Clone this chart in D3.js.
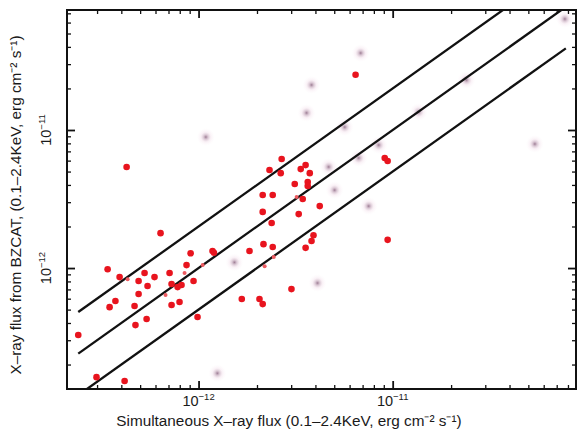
<!DOCTYPE html>
<html><head><meta charset="utf-8">
<script src="https://cdn.jsdelivr.net/npm/d3@7"></script>
<style>body{margin:0;background:#fff}svg{display:block}text{font-family:"Liberation Sans",Arial,sans-serif;fill:#1a1a1a}</style>
</head><body><svg id="c" width="578" height="432"></svg>
<script>
// Red points (simultaneous flux vs BZCAT flux)
const redX = [2.40e-13,2.98e-13,4.16e-13,3.40e-13,3.48e-13,3.73e-13,3.92e-13,4.26e-13,4.68e-13,4.73e-13,4.91e-13,4.91e-13,5.27e-13,5.46e-13,5.40e-13,5.93e-13,6.37e-13,7.09e-13,7.26e-13,7.26e-13,7.80e-13,7.98e-13,8.17e-13,8.67e-13,9.10e-13,9.42e-13,9.88e-13,1.18e-12,1.20e-12,1.67e-12,1.83e-12,2.06e-12,2.14e-12,2.14e-12,2.14e-12,2.16e-12,2.32e-12,2.38e-12,2.41e-12,2.41e-12,2.65e-12,2.68e-12,3.01e-12,3.13e-12,3.28e-12,3.36e-12,3.44e-12,3.56e-12,3.56e-12,3.65e-12,3.65e-12,3.74e-12,3.82e-12,3.91e-12,4.21e-12,6.44e-12,9.10e-12,9.42e-12,9.42e-12];
const redY = [3.27e-13,1.62e-13,1.52e-13,9.80e-13,5.21e-13,5.77e-13,8.60e-13,5.40e-12,5.31e-13,3.86e-13,8.05e-13,6.48e-13,9.20e-13,7.41e-13,4.27e-13,8.60e-13,1.79e-12,9.20e-13,5.40e-13,7.66e-13,7.28e-13,5.67e-13,7.53e-13,1.05e-12,1.28e-12,8.05e-13,4.42e-13,1.33e-12,1.29e-12,5.96e-13,1.33e-12,5.96e-13,5.48e-13,3.38e-12,2.55e-12,1.49e-12,5.13e-12,2.12e-12,1.42e-12,3.38e-12,4.87e-12,6.17e-12,7.04e-13,4.06e-12,2.46e-12,5.21e-12,3.16e-12,5.57e-12,1.40e-12,4.20e-12,3.93e-12,4.87e-12,1.57e-12,1.73e-12,2.81e-12,2.51e-11,6.27e-12,5.96e-12,1.60e-12];
// Faint small red points
const smallX = [4.31e-13,6.76e-13,8.47e-13,1.05e-12,2.19e-12,2.44e-12,3.20e-12];
const smallY = [8.30e-13,6.37e-13,9.20e-13,1.05e-12,1.03e-12,1.20e-12,3.27e-12];
// Faded (grey) points
const ghostX = [7.71e-11,6.84e-12,3.82e-12,2.40e-11,3.60e-12,1.36e-11,5.66e-12,1.09e-12,8.47e-12,5.40e-11,6.68e-12,4.68e-12,5.02e-12,7.52e-12,1.53e-12,4.10e-12,1.25e-12];
const ghostY = [6.37e-11,3.61e-11,2.12e-11,2.30e-11,1.33e-11,1.35e-11,1.05e-11,8.89e-12,7.78e-12,7.92e-12,6.27e-12,5.40e-12,3.67e-12,2.81e-12,1.10e-12,7.79e-13,1.73e-13];
// Reference lines y = k * x
const lineRatios = [2, 1, 0.5];
const lineXRange = [2.4e-13, 7.8e-11];
const xDomain = [2.1e-13, 8.8e-11];
const yDomain = [1.33e-13, 7.4e-11];
const xMajorTicks = [1e-12, 1e-11];
const yMajorTicks = [1e-12, 1e-11];
const xTickLabels = ["−12", "−11"];
const yTickLabels = ["−12", "−11"];
const xTitle = "Simultaneous X\u2013ray flux (0.1\u20132.4KeV, erg cm\u207B\u00B2 s\u207B\u00B9)";
const yTitle = "X\u2013ray flux from BZCAT, (0.1\u20132.4KeV, erg cm\u207B\u00B2 s\u207B\u00B9)";

const L = 67, R = 576, T = 10, B = 389;
const svg = d3.select("#c");
const x = d3.scaleLog().domain(xDomain).range([L, R]);
const y = d3.scaleLog().domain(yDomain).range([B, T]);

const defs = svg.append("defs");
defs.append("clipPath").attr("id","clip").append("rect")
  .attr("x",L).attr("y",T).attr("width",R-L).attr("height",B-T);
const grad = defs.append("radialGradient").attr("id","gh");
grad.append("stop").attr("offset","0%").attr("stop-color","#8a6580").attr("stop-opacity",0.85);
grad.append("stop").attr("offset","25%").attr("stop-color","#b48fa8").attr("stop-opacity",0.5);
grad.append("stop").attr("offset","55%").attr("stop-color","#f0d8e6").attr("stop-opacity",0.35);
grad.append("stop").attr("offset","100%").attr("stop-color","#fbf0f6").attr("stop-opacity",0);

const plot = svg.append("g").attr("clip-path","url(#clip)");

// ghost points
plot.selectAll(".gh").data(ghostX.map((d,i)=>[d,ghostY[i]])).enter().append("circle")
  .attr("cx",d=>x(d[0])).attr("cy",d=>y(d[1])).attr("r",9).attr("fill","url(#gh)");

// lines
lineRatios.forEach(k=>{
  plot.append("line").attr("x1",x(lineXRange[0])).attr("y1",y(lineXRange[0]*k))
    .attr("x2",x(lineXRange[1])).attr("y2",y(lineXRange[1]*k))
    .attr("stroke","#111").attr("stroke-width",2.3);
});

plot.selectAll(".rd").data(redX.map((d,i)=>[d,redY[i]])).enter().append("circle")
  .attr("cx",d=>x(d[0])).attr("cy",d=>y(d[1])).attr("r",3.3).attr("fill","#e8141e");
plot.selectAll(".sm").data(smallX.map((d,i)=>[d,smallY[i]])).enter().append("circle")
  .attr("cx",d=>x(d[0])).attr("cy",d=>y(d[1])).attr("r",2).attr("fill","#ec5a60");

// axes (ticks inside)
const isMajor = d => Math.abs(Math.log10(d)-Math.round(Math.log10(d)))<1e-6;
const xAll = x.ticks(), yAll = y.ticks();
function addAxis(gen, scale, ticks, transform, horiz, sign){
  svg.append("g").attr("transform",transform)
    .call(gen(scale).tickValues(ticks).tickFormat(()=> "").tickSizeOuter(0))
    .call(g=>{
      g.select(".domain").remove();
      g.selectAll(".tick line").attr("stroke","#111")
        .attr("stroke-width",d=>isMajor(d)?1.8:1.3)
        .attr(horiz?"y2":"x2",d=>sign*(isMajor(d)?8:4));
    });
}
addAxis(d3.axisBottom, x, xAll, `translate(0,${B})`, true, -1);
addAxis(d3.axisTop, x, xAll, `translate(0,${T})`, true, 1);
addAxis(d3.axisLeft, y, yAll, `translate(${L},0)`, false, 1);
addAxis(d3.axisRight, y, yAll, `translate(${R},0)`, false, -1);

// frame
svg.append("rect").attr("x",L).attr("y",T).attr("width",R-L).attr("height",B-T)
  .attr("fill","none").attr("stroke","#111").attr("stroke-width",2);

// tick labels
xMajorTicks.forEach((v,i)=>{
  const t = svg.append("text").attr("x",x(v)).attr("y",406).attr("text-anchor","middle").attr("font-size",14.5);
  t.append("tspan").text("10");
  t.append("tspan").attr("font-size",9.5).attr("dy",-6).text(xTickLabels[i]);
});
yMajorTicks.forEach((v,i)=>{
  const t = svg.append("text").attr("transform",`translate(51,${y(v)}) rotate(-90)`).attr("text-anchor","middle").attr("font-size",14.5);
  t.append("tspan").text("10");
  t.append("tspan").attr("font-size",9.5).attr("dy",-6).text(yTickLabels[i]);
});
// titles
svg.append("text").attr("x",289).attr("y",426).attr("text-anchor","middle").attr("font-size",15.3).text(xTitle);
svg.append("text").attr("transform",`translate(21,205) rotate(-90)`).attr("text-anchor","middle").attr("font-size",15.3).text(yTitle);
</script></body></html>
